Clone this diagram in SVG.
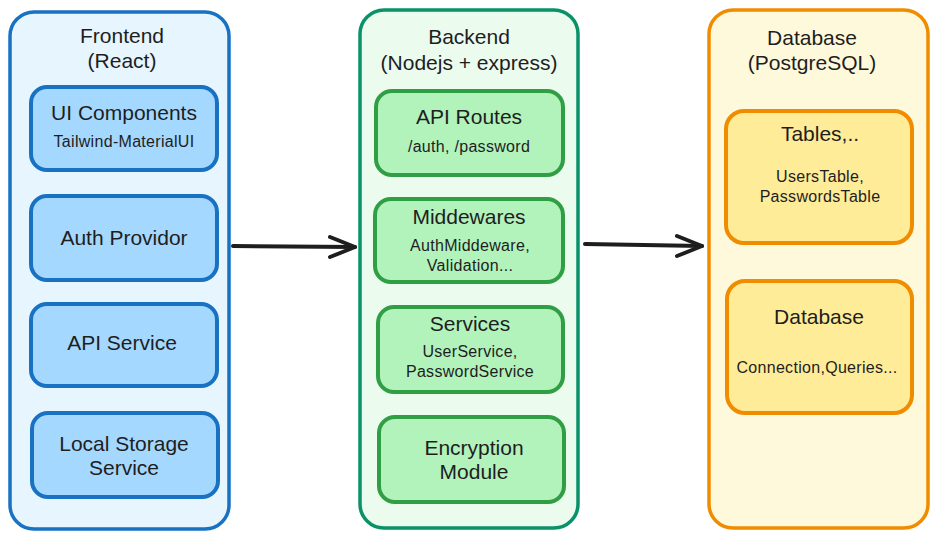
<svg xmlns="http://www.w3.org/2000/svg" width="937" height="541" viewBox="0 0 937 541">
<style>
  text { font-family: "Liberation Sans", Arial, sans-serif; fill: #1e1e1e; text-anchor: middle; dominant-baseline: central; }
  .t { font-size: 21px; }
  .s { font-size: 16px; letter-spacing: 0.3px; }
  .fe { fill: #e7f5ff; stroke: #1971c2; stroke-width: 3.5; }
  .fei { fill: #a5d8ff; stroke: #1971c2; stroke-width: 4; }
  .be { fill: #ebfbee; stroke: #099268; stroke-width: 3.5; }
  .bei { fill: #b2f2bb; stroke: #2f9e44; stroke-width: 4; }
  .db { fill: #fff9db; stroke: #f08c00; stroke-width: 3.5; }
  .dbi { fill: #ffec99; stroke: #f08c00; stroke-width: 4; }
  .conn { fill: none; stroke: #1e1e1e; stroke-width: 4; stroke-linecap: round; stroke-linejoin: round; }
</style>
<rect width="937" height="541" fill="#ffffff"/>

<g id="frontend">
  <rect class="fe" x="10" y="12" width="219" height="517" rx="24"/>
  <text class="t" x="122" y="35">Frontend</text>
  <text class="t" x="122" y="60">(React)</text>
</g>
<g id="ui-components">
  <rect class="fei" x="31" y="87" width="186" height="83" rx="16"/>
  <text class="t" x="124" y="112">UI Components</text>
  <text class="s" x="124" y="141">Tailwind-MaterialUI</text>
</g>
<g id="auth-providor">
  <rect class="fei" x="31" y="196" width="186" height="84" rx="16"/>
  <text class="t" x="124" y="237">Auth Providor</text>
</g>
<g id="api-service">
  <rect class="fei" x="31" y="304" width="186" height="82" rx="16"/>
  <text class="t" x="122" y="342">API Service</text>
</g>
<g id="local-storage">
  <rect class="fei" x="32" y="413" width="186" height="84" rx="16"/>
  <text class="t" x="124" y="443">Local Storage</text>
  <text class="t" x="124" y="467">Service</text>
</g>

<g id="backend">
  <rect class="be" x="360" y="10" width="218" height="518" rx="24"/>
  <text class="t" x="469" y="36">Backend</text>
  <text class="t" x="469" y="62">(Nodejs + express)</text>
</g>
<g id="api-routes">
  <rect class="bei" x="376" y="91" width="187" height="84" rx="16"/>
  <text class="t" x="469" y="116">API Routes</text>
  <text class="s" x="469" y="146">/auth, /password</text>
</g>
<g id="middewares">
  <rect class="bei" x="375" y="199" width="188" height="83" rx="16"/>
  <text class="t" x="469" y="216">Middewares</text>
  <text class="s" x="470" y="245">AuthMiddeware,</text>
  <text class="s" x="470" y="265">Validation...</text>
</g>
<g id="services">
  <rect class="bei" x="378" y="307" width="185" height="85" rx="16"/>
  <text class="t" x="470" y="323">Services</text>
  <text class="s" x="470" y="351">UserService,</text>
  <text class="s" x="470" y="371">PasswordService</text>
</g>
<g id="encryption">
  <rect class="bei" x="379" y="417" width="185" height="85" rx="16"/>
  <text class="t" x="474" y="447">Encryption</text>
  <text class="t" x="474" y="471">Module</text>
</g>

<g id="database">
  <rect class="db" x="709" y="10" width="219" height="518" rx="24"/>
  <text class="t" x="812" y="37">Database</text>
  <text class="t" x="812" y="62">(PostgreSQL)</text>
</g>
<g id="tables">
  <rect class="dbi" x="726" y="111" width="186" height="132" rx="18"/>
  <text class="t" x="820" y="133">Tables,..</text>
  <text class="s" x="820" y="176">UsersTable,</text>
  <text class="s" x="820" y="196">PasswordsTable</text>
</g>
<g id="database-conn">
  <rect class="dbi" x="727" y="281" width="185" height="132" rx="18"/>
  <text class="t" x="819" y="316">Database</text>
  <text class="s" x="817" y="367">Connection,Queries...</text>
</g>

<g id="connectors">
  <path class="conn" d="M233 246 L355 247"/>
  <path class="conn" d="M330 237 L355 247 L330 257"/>
  <path class="conn" d="M585 244 L702 246"/>
  <path class="conn" d="M677 236 L702 246 L677 256"/>
</g>
</svg>
